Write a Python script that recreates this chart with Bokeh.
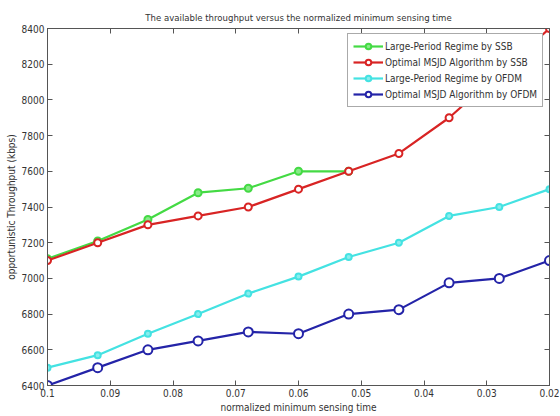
from bokeh.plotting import figure
from bokeh.models import Range1d, LinearAxis, FixedTicker, Legend, LegendItem
from bokeh.embed import file_html
from bokeh.resources import INLINE

# ---- data ----
x_vals = [0.1, 0.092, 0.084, 0.076, 0.068, 0.06, 0.052, 0.044, 0.036, 0.028, 0.02]
ssb_large_x = [0.1, 0.092, 0.084, 0.076, 0.068, 0.06, 0.052]
ssb_large = [7110, 7210, 7330, 7480, 7505, 7600, 7600]
ssb_msjd = [7100, 7200, 7300, 7350, 7400, 7500, 7600, 7700, 7900, 8150, 8400]
ofdm_large = [6500, 6570, 6690, 6800, 6915, 7010, 7120, 7200, 7350, 7400, 7500]
ofdm_msjd = [6400, 6500, 6600, 6650, 6700, 6690, 6800, 6825, 6975, 7000, 7100]

series_names = ["Large-Period Regime by SSB", "Optimal MSJD Algorithm by SSB",
                "Large-Period Regime by OFDM", "Optimal MSJD Algorithm by OFDM"]
x_ticks = [0.1, 0.09, 0.08, 0.07, 0.06, 0.05, 0.04, 0.03, 0.02]
x_tick_labels = ["0.1", "0.09", "0.08", "0.07", "0.06", "0.05", "0.04", "0.03", "0.02"]
y_ticks = [6400, 6600, 6800, 7000, 7200, 7400, 7600, 7800, 8000, 8200, 8400]

title_text = "The available throughput versus the normalized minimum sensing time"
x_label = "normalized minimum sensing time"
y_label = "opportunistic Throughput (kbps)"

FONT = "DejaVu Sans Condensed, Liberation Sans, sans-serif"
AX = "#555555"
TXT = "#333333"

p = figure(width=560, height=416, x_range=Range1d(0.1, 0.02), y_range=Range1d(6400, 8400),
           output_backend="svg", toolbar_location=None,
           min_border_left=47, min_border_right=11, min_border_top=28, min_border_bottom=31)

p.title.text = title_text
p.title.align = "center"
p.title.text_font = FONT
p.title.text_font_size = "9.5px"
p.title.text_font_style = "normal"
p.title.text_color = TXT
p.title.standoff = 11

p.xgrid.visible = False
p.ygrid.visible = False
p.outline_line_color = AX
p.outline_line_width = 1

xa = p.xaxis[0]
xa.ticker = FixedTicker(ticks=x_ticks)
xa.major_label_overrides = {t: l for t, l in zip(x_ticks, x_tick_labels)}
ya = p.yaxis[0]
ya.ticker = FixedTicker(ticks=y_ticks)
xa.axis_label = x_label
ya.axis_label = y_label
for ax in (xa, ya):
    ax.axis_line_color = AX
    ax.major_tick_line_color = AX
    ax.major_tick_in = 5
    ax.major_tick_out = 0
    ax.minor_tick_line_color = None
    ax.major_label_text_font = FONT
    ax.major_label_text_font_size = "10px"
    ax.major_label_text_color = TXT
    ax.axis_label_text_font = FONT
    ax.axis_label_text_font_size = "10px"
    ax.axis_label_text_font_style = "normal"
    ax.axis_label_text_color = TXT
xa.major_label_standoff = 3
xa.axis_label_standoff = 2
ya.major_label_standoff = 3
ya.axis_label_standoff = 2

top = LinearAxis(ticker=FixedTicker(ticks=x_ticks), major_tick_in=5, major_tick_out=0,
                 minor_tick_line_color=None, axis_line_color=AX, major_tick_line_color=AX,
                 major_label_standoff=0, major_label_overrides={t: "" for t in x_ticks})
right = LinearAxis(ticker=FixedTicker(ticks=y_ticks), major_tick_in=5, major_tick_out=0,
                   minor_tick_line_color=None, axis_line_color=AX, major_tick_line_color=AX,
                   major_label_standoff=0, major_label_overrides={t: "" for t in y_ticks})
p.add_layout(top, "above")
p.add_layout(right, "right")

colors = ["#44da44", "#d82424", "#44e2e2", "#2424a8"]
fills = ["#88ea88", "white", "#88eeee", "white"]
sizes = [7, 7, 6, 9]
xs = [ssb_large_x, x_vals, x_vals, x_vals]
ys = [ssb_large, ssb_msjd, ofdm_large, ofdm_msjd]

items = []
for name, c, f, s, xx, yy in zip(series_names, colors, fills, sizes, xs, ys):
    ln = p.line(xx, yy, line_color=c, line_width=2.2)
    sc = p.scatter(xx, yy, marker="circle", size=s, line_color=c, line_width=2, fill_color=f)
    items.append(LegendItem(label=name, renderers=[ln, sc]))

legend = Legend(items=items, location=(300, 278))
legend.label_text_font = FONT
legend.label_text_font_size = "10px"
legend.label_text_color = TXT
legend.glyph_width = 30
legend.glyph_height = 14
legend.label_height = 14
legend.label_standoff = 2
legend.spacing = 2
legend.padding = 5
legend.margin = 0
legend.border_line_color = AX
legend.border_line_width = 1
legend.background_fill_color = "white"
legend.background_fill_alpha = 1
p.add_layout(legend)

open("out.html", "w").write(file_html(p, INLINE))
